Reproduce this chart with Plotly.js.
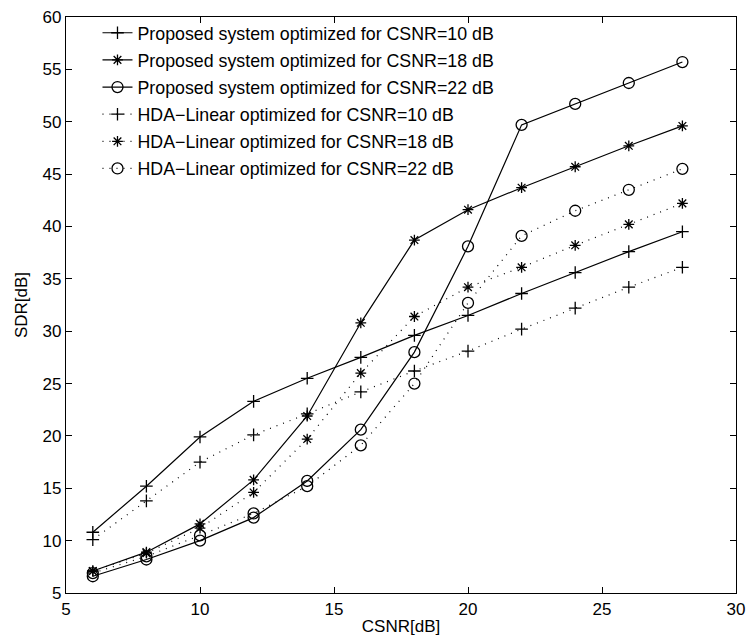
<!DOCTYPE html>
<html>
<head>
<meta charset="utf-8">
<script src="https://cdn.plot.ly/plotly-3.0.1.min.js"></script>
<style>html,body{margin:0;padding:0;background:#fff}#chart{width:749px;height:642px}</style>
</head>
<body>
<div id="chart"></div>
<script>
const csnr = [6, 8, 10, 12, 14, 16, 18, 20, 22, 24, 26, 28];
const proposed10 = [10.8, 15.2, 19.9, 23.3, 25.5, 27.5, 29.6, 31.5, 33.6, 35.6, 37.6, 39.5];
const proposed18 = [7.1, 8.9, 11.6, 15.8, 21.9, 30.8, 38.7, 41.6, 43.7, 45.7, 47.7, 49.6];
const proposed22 = [6.6, 8.2, 10.0, 12.2, 15.7, 20.6, 28.0, 38.1, 49.7, 51.7, 53.7, 55.7];
const hda10 = [10.1, 13.8, 17.5, 20.1, 22.1, 24.2, 26.2, 28.1, 30.2, 32.2, 34.2, 36.1];
const hda18 = [7.1, 8.8, 11.2, 14.6, 19.7, 26.0, 31.4, 34.2, 36.1, 38.2, 40.2, 42.2];
const hda22 = [6.9, 8.5, 10.5, 12.6, 15.2, 19.1, 25.0, 32.7, 39.1, 41.5, 43.5, 45.5];
const seriesNames = [
  'Proposed system optimized for CSNR=10 dB',
  'Proposed system optimized for CSNR=18 dB',
  'Proposed system optimized for CSNR=22 dB',
  'HDA\u2212Linear optimized for CSNR=10 dB',
  'HDA\u2212Linear optimized for CSNR=18 dB',
  'HDA\u2212Linear optimized for CSNR=22 dB'
];
const xTicks = [5, 10, 15, 20, 25, 30];
const yTicks = [5, 10, 15, 20, 25, 30, 35, 40, 45, 50, 55, 60];

const seriesData = [proposed10, proposed18, proposed22, hda10, hda18, hda22];
const symbols = ['cross-thin-open', 'asterisk-open', 'circle-open', 'cross-thin-open', 'asterisk-open', 'circle-open'];
const sizes = [9, 9, 11, 9, 9, 11];
const dashes = ['solid', 'solid', 'solid', '1px,6px', '1px,6px', '1px,6px'];

const font = 'Liberation Sans, Arial, Helvetica, sans-serif';
const traces = seriesData.map((y, i) => ({
  x: csnr, y: y, name: seriesNames[i], type: 'scatter', mode: 'lines+markers',
  legendgroup: 'g' + i,
  line: {color: '#000', width: 1.2, dash: dashes[i]},
  marker: {symbol: symbols[i], size: sizes[i], color: '#000', line: {color: '#000', width: 1.3}}
}));

const axisCommon = {
  showgrid: false, zeroline: false, showline: true, linecolor: '#000', linewidth: 1.2,
  mirror: 'ticks', ticks: 'inside', ticklen: 6, tickwidth: 1, tickcolor: '#000',
  tickfont: {family: font, size: 17, color: '#000'}
};
const layout = {
  width: 749, height: 642,
  margin: {l: 66, r: 13, t: 17, b: 49},
  paper_bgcolor: '#fff', plot_bgcolor: '#fff',
  font: {family: font, color: '#000'},
  showlegend: true,
  legend: {x: 0.047, y: 1.004, xanchor: 'left', yanchor: 'top', bgcolor: 'rgba(0,0,0,0)', borderwidth: 0,
           traceorder: 'grouped', tracegroupgap: 1,
           font: {family: font, size: 17.8, color: '#000'}},
  xaxis: Object.assign({}, axisCommon, {range: [5, 30], tickvals: xTicks, ticktext: xTicks.map(String),
    title: {text: 'CSNR[dB]', font: {family: font, size: 17, color: '#000'}, standoff: 2}}),
  yaxis: Object.assign({}, axisCommon, {range: [5, 60], tickvals: yTicks, ticktext: yTicks.map(String),
    title: {text: 'SDR[dB]', font: {family: font, size: 17, color: '#000'}, standoff: 10}})
};
Plotly.newPlot('chart', traces, layout, {displayModeBar: false, staticPlot: true});
</script>
</body>
</html>
